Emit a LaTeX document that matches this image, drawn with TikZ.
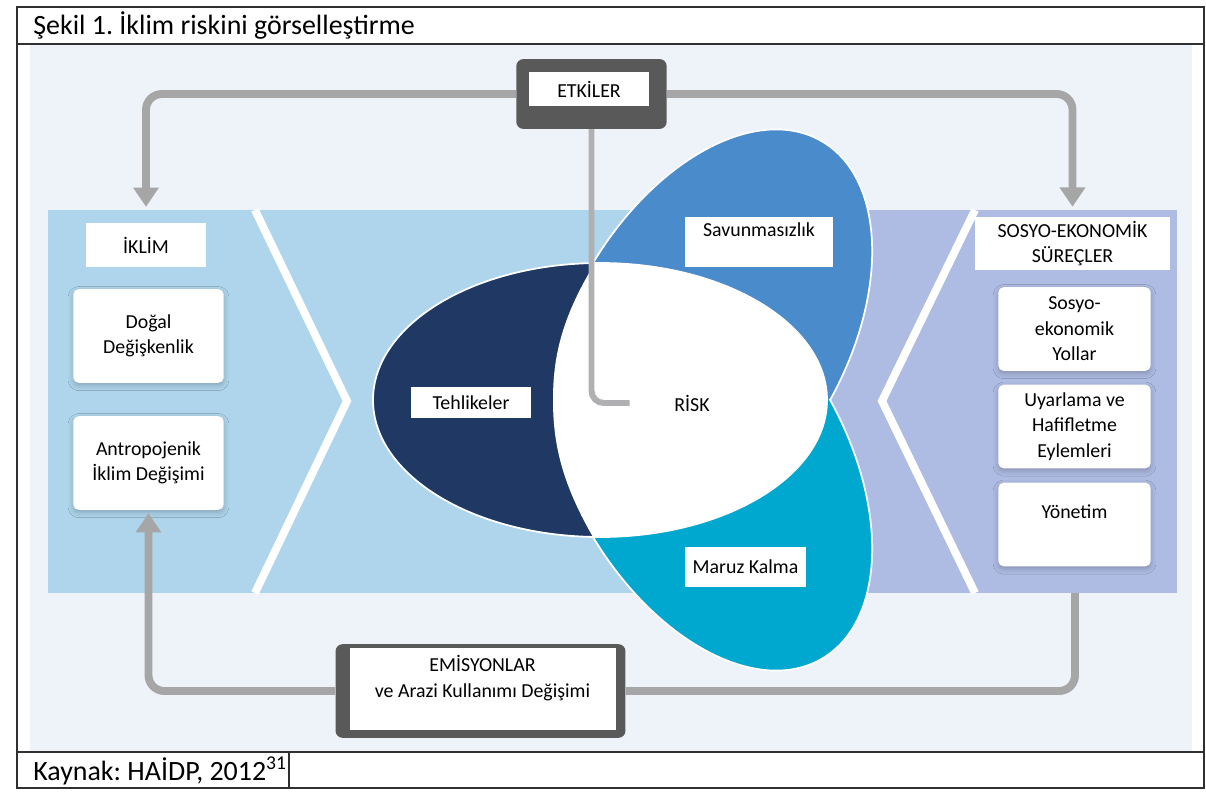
\documentclass[tikz,border=0pt]{standalone}
\usepackage{fontspec}
\setmainfont{Carlito}
\usepackage{tikz}
\usetikzlibrary{arrows.meta,shadows.blur}
\frenchspacing
\definecolor{bgpale}{HTML}{EEF3FA}
\definecolor{bandblue}{HTML}{AED5EB}
\definecolor{bandlilac}{HTML}{AEBBE2}
\definecolor{hazard}{HTML}{1F3864}
\definecolor{vuln}{HTML}{4A8BCB}
\definecolor{expo}{HTML}{00A8CF}
\definecolor{arrowgrey}{HTML}{A6A6A6}
\definecolor{riskgrey}{HTML}{B0B0B2}
\definecolor{boxgrey}{HTML}{595959}
\definecolor{rulegrey}{HTML}{303030}
\tikzstyle{box_round} = [fill=white, rounded corners=3pt, align=center, minimum width=85.6pt, blur shadow={shadow xshift=0pt, shadow yshift=-1.5pt, shadow blur radius=3pt, shadow opacity=22}]
\tikzstyle{box_plain} = [fill=white, align=center, inner sep=0pt]
\tikzstyle{box_dark} = [fill=boxgrey, rounded corners=4pt, inner sep=0pt]
\tikzstyle{line_grey} = [draw=arrowgrey, line width=4.5pt, rounded corners=9pt]
\tikzstyle{tip_grey} = [-{Triangle[width=14pt,length=11pt]}]
\tikzstyle{petal} = [draw=white, line width=1pt]

\begin{document}
\begin{tikzpicture}[x=0.02cm, y=-0.02cm, font=\fontsize{11.3}{14.5}\selectfont]
	\useasboundingbox (0,0) rectangle (1206,791);
	\def\ra{227}
	\def\rb{137}
	\def\off{72}
	\fill[bgpale] (30,44) rectangle (1192,752);
	\fill[bandblue] (48,210) rectangle (828,593);
	\fill[bandlilac] (828,210) rectangle (1177,593);
	\draw[white, line width=4.5pt] (255,210) -- (347,401) -- (255,593);
	\draw[white, line width=4.5pt] (975,210) -- (882,401) -- (975,593);
	
	\begin{scope}[shift={(672,400)}]
		\begin{scope}
			\clip (-200,-300) rectangle (300,1);
			\filldraw[petal, fill=vuln, rotate=-120] (-\off,0) ellipse [x radius=\ra, y radius=\rb];
		\end{scope}
		\begin{scope}
			\clip (-200,-1) rectangle (300,300);
			\filldraw[petal, fill=expo, rotate=120] (-\off,0) ellipse [x radius=\ra, y radius=\rb];
		\end{scope}
		\filldraw[petal, fill=hazard] (-\off,0) ellipse [x radius=\ra, y radius=\rb];
		\begin{scope}
			\clip (-\off,0) ellipse [x radius=\ra, y radius=\rb];
			\fill[white] (-77,-137) .. controls (-112,-80) and (-119,-40) .. (-119,0)
				.. controls (-119,40) and (-112,80) .. (-79,137) -- (250,137) -- (250,-137) -- cycle;
		\end{scope}
	\end{scope}
	
	\node[box_dark, minimum width=85.6pt, minimum height=39.7pt] (etkiler) at (591.5,94) {};
	\node[box_plain, minimum width=68pt, minimum height=19.3pt] (etkilertxt) at (589,89) {ETKİLER};
	\node[box_dark, minimum width=165pt, minimum height=53.3pt] (emisyon) at (480.5,691) {};
	\node[box_plain, minimum width=151.4pt, minimum height=46.5pt] (emisyontxt) at (482.5,689) {EMİSYONLAR\\ve Arazi Kullanımı Değişimi\\\mbox{}};
	
	\node[box_plain, minimum width=68pt, minimum height=25pt] (iklim) at (146,245) {İKLİM};
	\node[box_round, minimum height=53.3pt] (dogal) at (148.5,336) {Doğal\\Değişkenlik};
	\node[box_round, minimum height=53.3pt] (antro) at (148.5,463) {Antropojenik\\İklim Değişimi};
	
	\node[box_plain, minimum width=110.5pt, minimum height=30pt] (sosyo) at (1072.5,243.5) {SOSYO-EKONOMİK\\SÜREÇLER};
	\node[box_round, minimum width=86.7pt, minimum height=47.6pt] (yollar) at (1074.5,329) {Sosyo-\\ekonomik\\Yollar};
	\node[box_round, minimum width=86.7pt, minimum height=47.6pt] (eylem) at (1074.5,426.5) {Uyarlama ve\\Hafifletme\\Eylemleri};
	\node[box_round, minimum width=86.7pt, minimum height=47.6pt] (yonetim) at (1074.5,524.5) {Yönetim\\\mbox{}};
	
	\node[box_plain, minimum width=83.9pt, minimum height=28.3pt] (savun) at (759,242) {Savunmasızlık\\\mbox{}};
	\node[box_plain, minimum width=68pt, minimum height=17.6pt] (tehlike) at (471,402.5) {Tehlikeler};
	\node[box_plain, minimum width=68.6pt, minimum height=22.7pt] (maruz) at (745.5,567) {Maruz Kalma};
	\node (risk) at (692,403) {RİSK};
	\coordinate (lilacfoot) at (1075,593);
	
	\draw[line_grey, tip_grey, shorten >=9pt] (etkiler.west) -| (iklim.north);
	\draw[line_grey, tip_grey, shorten >=5.7pt] (etkiler.east) -| (sosyo.north);
	\draw[line_grey] (lilacfoot) |- (emisyon.east);
	\draw[line_grey, tip_grey, shorten >=1.7pt] (emisyon.west) -| (antro.south);
	\draw[line_grey, draw=riskgrey, line width=3.4pt, rounded corners=7pt, shorten >=22pt] (etkiler.south) |- (risk.west);
	
	\draw[rulegrey, line width=0.9pt] (17,7) rectangle (1204,788);
	\draw[rulegrey, line width=0.9pt] (17,44) -- (1204,44) (17,752) -- (1204,752) (289,752) -- (289,788);
	\node[anchor=west, inner sep=0pt, font=\fontsize{15.9}{19}\selectfont] (title) at (33,26) {Şekil 1. İklim riskini görselleştirme};
	\node[anchor=west, inner sep=0pt, font=\fontsize{15.9}{19}\selectfont] (source) at (33,771) {Kaynak: HAİDP, 2012\textsuperscript{31}};
\end{tikzpicture}
\end{document}
